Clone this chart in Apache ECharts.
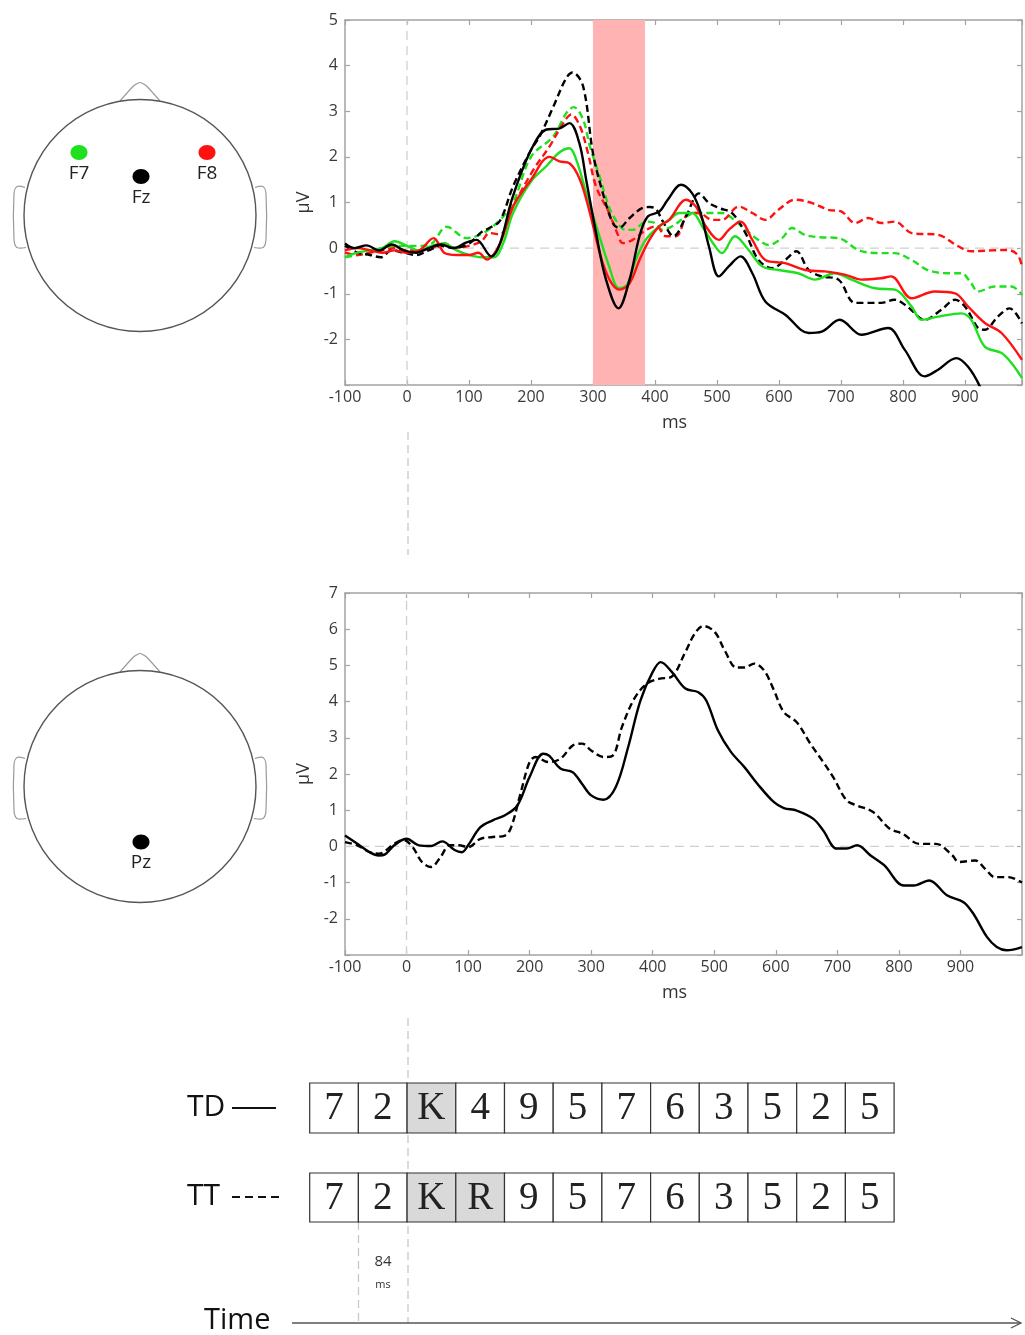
<!DOCTYPE html>
<html><head><meta charset="utf-8">
<script src="https://cdn.jsdelivr.net/npm/echarts/dist/echarts.min.js"></script>
<style>html,body{margin:0;padding:0;background:#fff}#c{width:1025px;height:1335px}</style>
</head><body><div id="c"></div>
<script>
// ---------- data (ms, µV) ----------
const fzTD = [[-100,0.1],[-85,0.0],[-65,0.06],[-45,-0.05],[-25,0.08],[-5,-0.05],[15,-0.1],[35,0.0],[55,0.08],[75,0.0],[95,0.12],[112,0.18],[136,-0.18],[150,0.1],[170,1.1],[200,2.15],[225,2.6],[245,2.62],[262,2.74],[278,2.3],[289,1.5],[305,0.33],[321,-0.69],[341,-1.32],[359,-0.69],[375,0.26],[388,0.69],[407,0.8],[420,1.05],[442,1.39],[460,1.2],[473,0.8],[487,0.04],[503,-0.62],[519,-0.4],[538,-0.18],[557,-0.55],[578,-1.17],[610,-1.46],[648,-1.86],[669,-1.83],[698,-1.57],[733,-1.9],[776,-1.75],[803,-2.23],[835,-2.81],[856,-2.67],[886,-2.41],[905,-2.6],[924,-3.03],[940,-3.6]];
const fzTT = [[-100,0.05],[-80,-0.1],[-60,-0.15],[-42,-0.2],[-25,-0.05],[-5,-0.1],[15,-0.15],[35,-0.05],[55,0.05],[75,0.0],[100,0.1],[120,0.35],[133,0.44],[150,0.6],[171,1.35],[200,2.15],[214,2.45],[236,3.1],[257,3.73],[267,3.85],[284,3.55],[300,2.08],[316,1.2],[332,0.55],[342,0.44],[359,0.66],[380,0.88],[392,0.9],[402,0.85],[412,0.6],[430,0.26],[450,0.69],[471,1.2],[487,0.99],[503,0.88],[524,0.77],[546,0.33],[567,-0.26],[589,-0.44],[610,-0.26],[628,-0.07],[648,-0.48],[669,-0.62],[696,-0.69],[723,-1.2],[765,-1.2],[786,-1.13],[807,-1.28],[835,-1.57],[862,-1.35],[884,-1.13],[900,-1.28],[921,-1.75],[932,-1.79],[953,-1.5],[972,-1.32],[992,-1.65]];
const f7TD = [[-100,-0.2],[-80,-0.1],[-60,-0.05],[-40,0.0],[-20,0.15],[0,0.05],[20,-0.05],[40,0.05],[60,0.1],[80,-0.05],[100,-0.15],[120,-0.2],[140,-0.2],[155,0.1],[171,0.77],[200,1.46],[225,1.8],[246,2.1],[262,2.19],[273,1.94],[289,1.21],[305,0.5],[326,-0.4],[342,-0.88],[355,-0.8],[369,-0.26],[385,0.18],[407,0.48],[423,0.62],[439,0.77],[460,0.77],[476,0.48],[497,0.04],[508,-0.11],[529,0.26],[551,-0.04],[573,-0.4],[599,-0.48],[631,-0.55],[658,-0.69],[690,-0.55],[717,-0.69],[755,-0.88],[787,-0.91],[814,-1.28],[830,-1.57],[857,-1.5],[894,-1.43],[910,-1.57],[932,-2.16],[959,-2.3],[975,-2.52],[992,-2.85]];
const f8TD = [[-100,-0.05],[-80,0.0],[-60,-0.05],[-40,-0.1],[-20,-0.05],[0,-0.1],[20,-0.05],[43,0.22],[60,-0.1],[80,-0.15],[100,-0.15],[115,-0.1],[129,-0.25],[150,0.1],[171,0.91],[200,1.5],[230,2.0],[246,1.9],[262,1.86],[279,1.5],[295,0.77],[311,-0.11],[327,-0.7],[343,-0.91],[359,-0.77],[375,-0.26],[391,0.18],[407,0.48],[423,0.62],[450,1.06],[466,0.91],[482,0.48],[503,0.18],[519,0.4],[538,0.58],[557,0.18],[578,-0.26],[610,-0.33],[642,-0.48],[674,-0.51],[706,-0.58],[733,-0.69],[765,-0.66],[781,-0.62],[814,-1.1],[851,-0.95],[884,-0.99],[905,-1.28],[932,-1.64],[959,-1.86],[992,-2.45]];
const f7TT = [[-100,-0.2],[-80,-0.15],[-60,-0.1],[-40,0.0],[-20,0.05],[0,0.05],[20,0.05],[40,0.1],[64,0.47],[96,0.22],[123,0.33],[150,0.62],[171,0.99],[200,2.0],[236,2.45],[257,2.96],[269,3.09],[284,2.82],[295,2.23],[310,1.6],[326,0.9],[340,0.55],[352,0.4],[364,0.4],[386,0.58],[400,0.55],[412,0.4],[428,0.48],[450,0.69],[466,0.77],[487,0.77],[508,0.77],[524,0.66],[546,0.4],[567,0.18],[583,0.07],[605,0.22],[621,0.44],[642,0.29],[663,0.24],[696,0.22],[728,-0.04],[760,-0.11],[786,-0.11],[814,-0.26],[840,-0.48],[872,-0.55],[894,-0.55],[910,-0.77],[921,-0.95],[948,-0.84],[975,-0.84],[992,-1.02]];
const f8TT = [[-100,-0.1],[-80,-0.15],[-60,-0.1],[-40,-0.05],[-20,0.0],[0,-0.05],[20,-0.05],[40,0.0],[60,0.1],[80,0.0],[100,0.05],[120,0.15],[133,0.33],[150,0.3],[171,0.91],[204,1.72],[230,2.23],[252,2.74],[265,2.93],[279,2.67],[292,2.08],[305,1.35],[326,0.77],[340,0.3],[348,0.11],[364,0.18],[386,0.4],[402,0.48],[418,0.26],[434,0.26],[455,0.77],[471,0.77],[492,0.62],[508,0.62],[535,0.91],[557,0.77],[578,0.62],[599,0.84],[626,1.06],[653,0.99],[680,0.84],[701,0.8],[723,0.55],[744,0.66],[765,0.55],[787,0.58],[814,0.33],[857,0.29],[889,0.04],[910,-0.07],[942,-0.05],[969,-0.04],[985,-0.15],[992,-0.4]];
const pzTD = [[-100,0.3],[-80,0.07],[-60,-0.16],[-45,-0.25],[-35,-0.22],[-20,0.03],[0,0.21],[20,0.03],[40,0.01],[58,0.14],[78,-0.1],[90,-0.16],[100,0.03],[120,0.53],[140,0.72],[160,0.86],[180,1.13],[200,1.92],[222,2.56],[232,2.5],[250,2.15],[270,2.05],[285,1.73],[300,1.41],[320,1.29],[340,1.64],[360,2.74],[380,4.03],[400,4.82],[413,5.09],[431,4.82],[453,4.36],[474,4.26],[487,4.03],[506,3.2],[527,2.61],[549,2.19],[570,1.73],[597,1.22],[613,1.06],[634,0.99],[661,0.76],[677,0.44],[699,-0.06],[715,-0.06],[732,0.03],[754,-0.25],[776,-0.52],[808,-1.08],[824,-1.08],[849,-0.94],[878,-1.35],[905,-1.54],[921,-1.86],[943,-2.5],[959,-2.78],[975,-2.87],[1000,-2.78]];
const pzTT = [[-100,0.12],[-80,0.03],[-60,-0.16],[-45,-0.2],[-20,0.07],[-5,0.18],[10,-0.02],[25,-0.43],[40,-0.57],[55,-0.3],[70,0.03],[85,0.03],[100,-0.02],[120,0.21],[140,0.26],[160,0.3],[170,0.53],[185,1.45],[200,2.33],[210,2.47],[230,2.33],[250,2.42],[270,2.79],[285,2.84],[300,2.65],[320,2.47],[335,2.51],[350,3.3],[370,4.08],[390,4.49],[410,4.63],[430,4.68],[453,5.37],[468,5.87],[482,6.09],[501,5.92],[517,5.41],[536,4.94],[549,4.94],[565,5.05],[581,4.86],[597,4.31],[613,3.71],[634,3.43],[656,2.84],[677,2.33],[693,1.92],[715,1.27],[732,1.13],[758,0.95],[785,0.49],[806,0.35],[833,0.07],[860,0.07],[887,-0.25],[897,-0.43],[924,-0.39],[940,-0.62],[956,-0.85],[978,-0.85],[1000,-1.0]];
const windowMs = [300, 384];
const tdSeq = ['7','2','K','4','9','5','7','6','3','5','2','5'];
const ttSeq = ['7','2','K','R','9','5','7','6','3','5','2','5'];
const tdShaded = [2];
const ttShaded = [2, 3];

// ---------- styling ----------
const FONT = 'Open Sans';
const AX = '#a3a3a3';
const GREEN = '#1ee01e', RED = '#ff1111', BLACK = '#000';
const DASH = [7, 4];

function xAxes(gi, xmax) {
  const lab = v => (v % 100 === 0 && v <= 900) ? String(v) : '';
  const base = {type:'value', gridIndex:gi, min:-100, max:xmax, interval:100,
    axisLine:{show:true, onZero:false, lineStyle:{color:AX, width:1.5}},
    axisTick:{show:true, inside:true, length:5, lineStyle:{color:AX, width:1.2}},
    splitLine:{show:false}};
  return [
    Object.assign({}, base, {position:'bottom',
      axisLabel:{formatter:lab, color:'#3a3a3a', fontSize:16, fontFamily:FONT, margin:4},
      name:'ms', nameLocation:'middle', nameGap:29,
      nameTextStyle:{color:'#333', fontSize:18, fontFamily:FONT, padding:[0,18,0,0]}}),
    Object.assign({}, base, {position:'top', axisLabel:{show:false}})
  ];
}
function yAxes(gi, ymin, ymax) {
  const base = {type:'value', gridIndex:gi, min:ymin, max:ymax, interval:1,
    axisLine:{show:true, onZero:false, lineStyle:{color:AX, width:1.5}},
    axisTick:{show:true, inside:true, length:5, lineStyle:{color:AX, width:1.2}},
    splitLine:{show:false}};
  return [
    Object.assign({}, base, {position:'left',
      axisLabel:{formatter:v => v === ymin ? '' : String(v), color:'#3a3a3a', fontSize:16, fontFamily:FONT, margin:7},
      name:'µV', nameLocation:'middle', nameGap:28,
      nameTextStyle:{color:'#333', fontSize:18, fontFamily:FONT}}),
    Object.assign({}, base, {position:'right', axisLabel:{show:false}})
  ];
}
function curve(data, color, dashed, xi, yi) {
  return {type:'line', data:data, xAxisIndex:xi, yAxisIndex:yi, symbol:'none', smooth:0.35,
    silent:true, lineStyle:{color:color, width:2.4, type: dashed ? DASH : 'solid'}};
}
function refLine(data, xi, yi) {
  return {type:'line', data:data, xAxisIndex:xi, yAxisIndex:yi, symbol:'none', silent:true,
    lineStyle:{color:'#d0d0d0', width:1.3, type:[9,6]}};
}

// ---------- graphics (head maps, sequences, time arrow) ----------
const g = [];
const LINEC = '#555';
function head(cx, cy, r) {
  const ty = cy - r + 1.5;
  g.push({type:'polyline', shape:{points:[[cx-20,ty],[cx-6,cy-r-14],[cx,cy-r-17],[cx+6,cy-r-14],[cx+20,ty]], smooth:0.2},
    style:{fill:null, stroke:'#999', lineWidth:1.2}, z:1});
  g.push({type:'polyline', shape:{points:[[cx-r+1,cy-28],[cx-r-7,cy-29],[cx-r-10,cy-22],[cx-r-10,cy+24],[cx-r-7,cy+32],[cx-r+2,cy+32]], smooth:0.3},
    style:{fill:null, stroke:'#999', lineWidth:1.2}, z:1});
  g.push({type:'polyline', shape:{points:[[cx+r-1,cy-28],[cx+r+7,cy-29],[cx+r+10,cy-22],[cx+r+10,cy+24],[cx+r+7,cy+32],[cx+r-2,cy+32]], smooth:0.3},
    style:{fill:null, stroke:'#999', lineWidth:1.2}, z:1});
  g.push({type:'circle', shape:{cx:cx, cy:cy, r:r}, style:{fill:'#fff', stroke:LINEC, lineWidth:1.4}, z:1});
}
function electrode(name, color, x, y) {
  g.push({type:'ellipse', shape:{cx:x, cy:y, rx:8.5, ry:7.5}, style:{fill:color}, z:2});
  g.push({type:'text', x:x, y:y+21, style:{text:name, fill:'#222', font:`19px "${FONT}"`, textAlign:'center', textVerticalAlign:'middle'}, z:2});
}
head(140, 215.5, 116);
electrode('F7', GREEN, 79, 152.5);
electrode('F8', RED, 207, 152.5);
electrode('Fz', BLACK, 141, 176.5);
head(140, 786.5, 116);
electrode('Pz', BLACK, 141, 842);

// dashed guides
function vdash(x, y1, y2) {
  g.push({type:'line', shape:{x1:x, y1:y1, x2:x, y2:y2}, style:{stroke:'#c4c4c4', lineWidth:1.2, lineDash:[8,5]}, z:0});
}
vdash(408, 432, 555);
vdash(408, 1018, 1323);
vdash(358.5, 1222, 1323);

// sequences
const BX = 309.7, BW = 48.7;
function row(seq, shaded, top, h) {
  seq.forEach((s, i) => {
    g.push({type:'rect', shape:{x:BX + i*BW, y:top, width:BW, height:h},
      style:{fill: shaded.includes(i) ? '#d9d9d9' : '#fff', stroke:'#333', lineWidth:1.2}, z:3});
    g.push({type:'text', x:BX + i*BW + BW/2, y:top + h/2 + 1,
      style:{text:s, fill:'#222', font:'39px "Liberation Serif"', textAlign:'center', textVerticalAlign:'middle'}, z:4});
  });
}
row(tdSeq, tdShaded, 1083, 50);
row(ttSeq, ttShaded, 1173, 49);
g.push({type:'text', x:187, y:1107, style:{text:'TD', fill:'#111', font:`30px "${FONT}"`, textAlign:'left', textVerticalAlign:'middle'}, z:3});
g.push({type:'line', shape:{x1:232, y1:1108, x2:276, y2:1108}, style:{stroke:'#111', lineWidth:2}, z:3});
g.push({type:'text', x:187, y:1196, style:{text:'TT', fill:'#111', font:`30px "${FONT}"`, textAlign:'left', textVerticalAlign:'middle'}, z:3});
g.push({type:'line', shape:{x1:232, y1:1197, x2:279, y2:1197}, style:{stroke:'#111', lineWidth:2, lineDash:[8,5]}, z:3});

// 84 ms
g.push({type:'text', x:383, y:1262, style:{text:'84', fill:'#333', font:`15px "${FONT}"`, textAlign:'center', textVerticalAlign:'middle'}, z:3});
g.push({type:'text', x:383, y:1285, style:{text:'ms', fill:'#333', font:`11px "${FONT}"`, textAlign:'center', textVerticalAlign:'middle'}, z:3});

// time arrow
g.push({type:'text', x:204, y:1321, style:{text:'Time', fill:'#111', font:`29px "${FONT}"`, textAlign:'left', textVerticalAlign:'middle'}, z:3});
g.push({type:'line', shape:{x1:292, y1:1323, x2:1021, y2:1323}, style:{stroke:'#555', lineWidth:1.3}, z:3});
g.push({type:'polyline', shape:{points:[[1011,1318],[1021,1323],[1011,1328]]}, style:{stroke:'#555', lineWidth:1.3, fill:null}, z:3});

// ---------- chart ----------
const chart = echarts.init(document.getElementById('c'), null, {renderer:'canvas'});
const topX = xAxes(0, 992), botX = xAxes(1, 1000);
const topY = yAxes(0, -3, 5), botY = yAxes(1, -3, 7);
chart.setOption({
  animation:false,
  backgroundColor:'#fff',
  grid:[{left:345, top:20, width:679, height:365}, {left:345, top:593, width:679, height:362}],
  xAxis:[topX[0], topX[1], botX[0], botX[1]],
  yAxis:[topY[0], topY[1], botY[0], botY[1]],
  graphic:g,
  series:[
    {type:'line', data:[], xAxisIndex:0, yAxisIndex:0, silent:true,
      markArea:{silent:true, itemStyle:{color:'#ffb3b3', opacity:1}, data:[[{xAxis:windowMs[0]}, {xAxis:windowMs[1]}]]}},
    refLine([[-100,0],[992,0]], 0, 0),
    refLine([[0,-3],[0,5]], 0, 0),
    refLine([[-100,0],[1000,0]], 2, 2),
    refLine([[0,-3],[0,7]], 2, 2),
    curve(f7TT, GREEN, true, 0, 0),
    curve(f8TT, RED, true, 0, 0),
    curve(fzTT, BLACK, true, 0, 0),
    curve(f7TD, GREEN, false, 0, 0),
    curve(f8TD, RED, false, 0, 0),
    curve(fzTD, BLACK, false, 0, 0),
    curve(pzTT, BLACK, true, 2, 2),
    curve(pzTD, BLACK, false, 2, 2)
  ]
});
</script>
</body></html>
